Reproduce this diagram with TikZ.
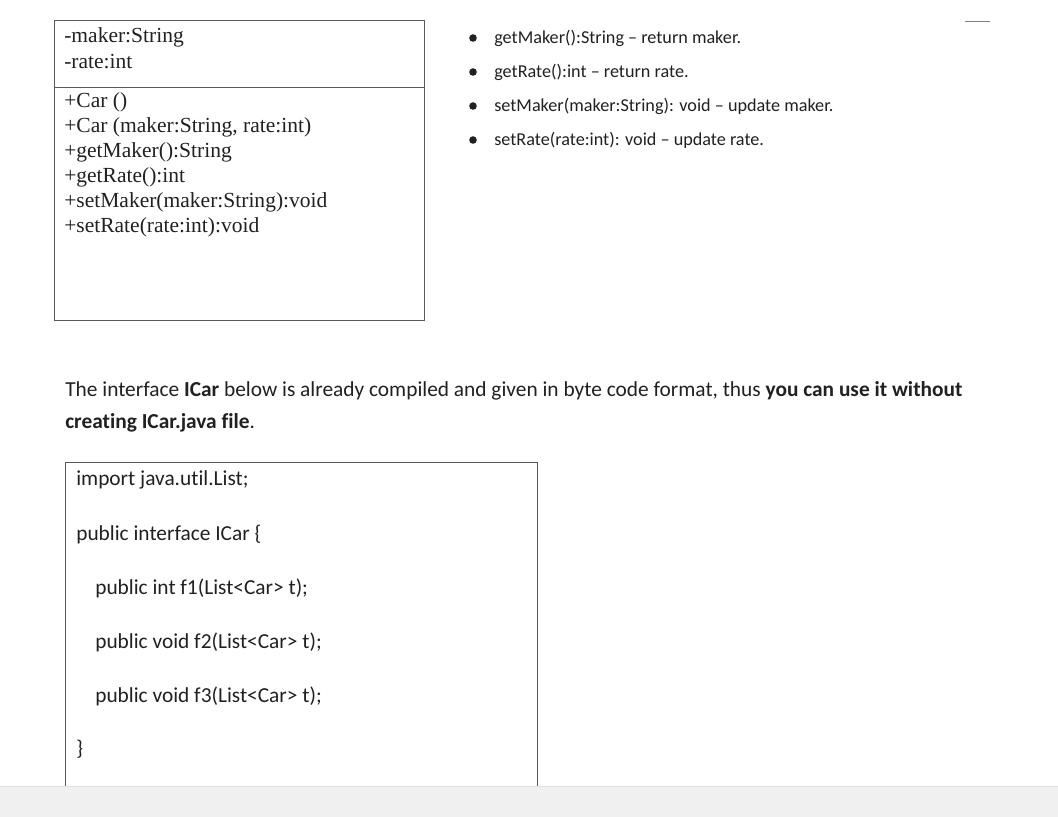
\documentclass[tikz,border=0pt]{standalone}
\usepackage{fontspec}
\setmainfont{Carlito}[Ligatures=NoCommon]
\newfontfamily\timesfont{Liberation Serif}
\usepackage{xcolor}
\definecolor{boxline}{rgb}{0.35,0.35,0.35}
\definecolor{bandgray}{rgb}{0.94,0.94,0.94}
\definecolor{bandedge}{rgb}{0.88,0.88,0.88}
\definecolor{inkgray}{rgb}{0.13,0.13,0.13}

\begin{document}
\begin{tikzpicture}[x=0.66pt, y=-0.66pt,
		txt/.style={anchor=west, inner sep=0pt, text=inkgray, font=\fontsize{14.1}{16}\selectfont},
		bul/.style={anchor=west, inner sep=0pt, text=inkgray, font=\fontsize{12}{14}\selectfont},
		uml/.style={anchor=west, inner sep=0pt, text=inkgray, font=\timesfont\fontsize{14.2}{16}\selectfont}]
			\useasboundingbox (0,0) rectangle (1058,817);
			\fill[white] (0,0) rectangle (1058,817);

			% Class box of Car
			\draw[boxline] (54,20) rectangle (424,320);
			\draw[boxline] (54,87) -- (424,87);
			\node[uml] (fmaker) at (64,37) {-maker:String};
			\node[uml] (frate) at (64,62) {-rate:int};
			\node[uml] (mcar) at (64,102) {+Car ()};
			\node[uml] (mcartwo) at (64,127) {+Car (maker:String, rate:int)};
			\node[uml] (mgetmaker) at (64,152) {+getMaker():String};
			\node[uml] (mgetrate) at (64,177) {+getRate():int};
			\node[uml] (msetmaker) at (64,202) {+setMaker(maker:String):void};
			\node[uml] (msetrate) at (64,227) {+setRate(rate:int):void};

			% Method list on the right
			\node[bul] (bgetmaker) at (494,38) {getMaker():String -- return maker.};
			\node[bul] (bgetrate) at (494,72) {getRate():int -- return rate.};
			\node[bul] (bsetmaker) at (494,106) {setMaker(maker:String): void -- update maker.};
			\node[bul] (bsetrate) at (494,140) {setRate(rate:int): void -- update rate.};
			\foreach \y in {38,72,106,140}
			\fill[inkgray] (473,\y) circle (2.5pt);

			% small mark top right
			\draw[gray, thin] (965,21) -- (990,21);

			% Paragraph
			\node[txt] (parone) at (65,391) {The interface \textbf{ICar} below is already compiled and given in byte code format, thus \textbf{you can use it without}};
			\node[txt] (partwo) at (65,423) {\textbf{creating ICar.java file}.};

			% Code box of ICar
			\draw[boxline] (65,786) -- (65,462) -- (537,462) -- (537,786);
			\node[txt] (cimport) at (76,480) {import java.util.List;};
			\node[txt] (chead) at (76,534) {public interface ICar \{};
			\node[txt] (cfone) at (95,588) {public int f1(List<Car> t);};
			\node[txt] (cftwo) at (95,642) {public void f2(List<Car> t);};
			\node[txt] (cfthree) at (95,696) {public void f3(List<Car> t);};
			\node[txt] (cend) at (76,749) {\}};

			% Gray band at the bottom
			\fill[bandgray] (0,786) rectangle (1058,817);
			\draw[bandedge] (0,786) -- (1058,786);
		\end{tikzpicture}
\end{document}
